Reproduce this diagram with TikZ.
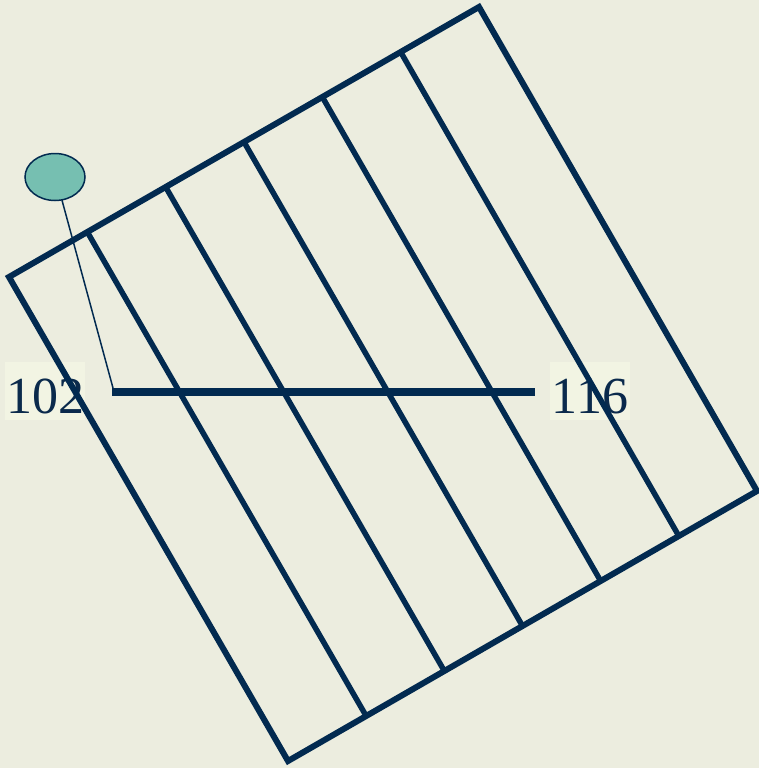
\documentclass[tikz,border=0pt]{standalone}
\usepackage{fontspec}
\setmainfont{Liberation Serif}
\usetikzlibrary{calc,shapes.geometric}
\begin{document}
\begin{tikzpicture}[x=1pt,y=-1pt,
  frameline/.style={draw=framecol,line width=6pt,line join=miter},
  divline/.style={draw=framecol,line width=5.5pt},
  barline/.style={draw=framecol,line width=8pt},
  leader/.style={draw=framecol,line width=1.5pt},
  numlabel/.style={fill=labelbg,text=textcol,inner sep=0pt,minimum width=80pt,
     text height=51pt,text depth=7pt,anchor=base,font=\fontsize{52}{52}\selectfont},
  pin/.style={ellipse,draw=framecol,line width=1.5pt,fill=pincol,minimum width=60pt,minimum height=47pt,inner sep=0pt}
]
\definecolor{framecol}{HTML}{022A50}
\definecolor{textcol}{HTML}{0B2A4C}
\definecolor{bgcol}{HTML}{ECEDDF}
\definecolor{labelbg}{HTML}{F2F4E3}
\definecolor{pincol}{HTML}{76BFB1}
\useasboundingbox[fill=bgcol] (0,0) rectangle (759,768);
% labels (drawn under the lines)
\node[numlabel] (l102) at (45,413) {102};
\node[numlabel] (l116) at (590,413) {116};
% corners of the rotated frame
\coordinate (tl) at (9,277);
\coordinate (tr) at (479,7);
\coordinate (br) at (757,491);
\coordinate (bl) at (288,761);
% divider lines
\foreach \k in {1,...,5}{
  \draw[divline] ($(tl)!\k/6!(tr)$) -- ($(bl)!\k/6!(br)$);
}
\draw[frameline] (tl) -- (tr) -- (br) -- (bl) -- cycle;
% bar
\coordinate (h1) at (112,392);
\coordinate (h2) at (535,392);
\draw[barline] (h1) -- (h2);
% pin
\node[pin] (pin) at (55,177) {};
\coordinate (p0) at ($(pin.south)+(7,-1)$);
\coordinate (p1) at ($(h1)+(1,-4)$);
\draw[leader] (p0) -- (p1);
\end{tikzpicture}
\end{document}
